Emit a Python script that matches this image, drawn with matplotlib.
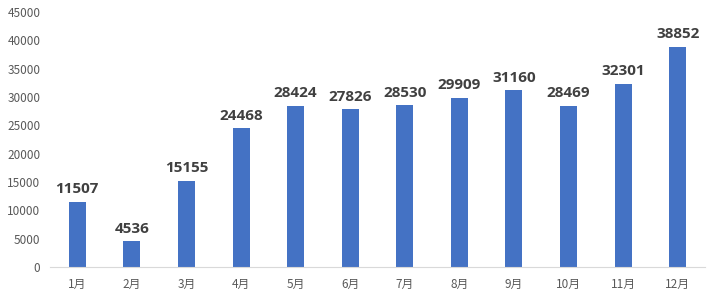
import matplotlib
matplotlib.use("Agg")
import matplotlib.pyplot as plt

plt.rcParams['font.family'] = ['Noto Sans CJK SC', 'DejaVu Sans']

months = ['1月', '2月', '3月', '4月', '5月', '6月', '7月', '8月', '9月', '10月', '11月', '12月']
values = [11507, 4536, 15155, 24468, 28424, 27826, 28530, 29909, 31160, 28469, 32301, 38852]
yticks = [0, 5000, 10000, 15000, 20000, 25000, 30000, 35000, 40000, 45000]

fig = plt.figure(figsize=(7.16, 2.98), dpi=100)
ax = fig.add_axes([50/716, 1-267/298, 655/716, 255/298])
x = list(range(len(months)))
bars = ax.bar(x, values, width=0.31, color='#4472C4')
for xi, v in zip(x, values):
    ax.text(xi, v + 1000, str(v), ha='center', va='bottom', fontsize=11,
            fontweight='bold', color='#404040', family=['Open Sans', 'DejaVu Sans'])
ax.set_xlim(-0.5, 11.5)
ax.set_ylim(0, 45000)
ax.set_yticks(yticks)
ax.set_yticklabels([str(t) for t in yticks], fontsize=8.5, color='#595959')
ax.set_xticks(x)
ax.set_xticklabels(months, fontsize=8.5, color='#595959')
for s in ['top', 'right', 'left']:
    ax.spines[s].set_visible(False)
ax.spines['bottom'].set_color('#D9D9D9')
ax.tick_params(axis='x', length=0, pad=8)
ax.tick_params(axis='y', length=0, pad=7)
fig.savefig('out.png', dpi=100)
